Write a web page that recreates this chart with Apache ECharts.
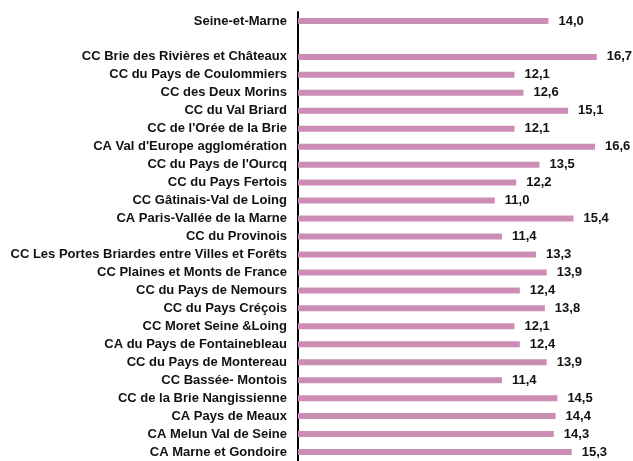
<!DOCTYPE html>
<html>
<head>
<meta charset="utf-8">
<script src="https://cdn.jsdelivr.net/npm/echarts@6/dist/echarts.min.js"></script>
<style>html,body{margin:0;padding:0;background:#fff}#chart{width:633px;height:461px}</style>
</head>
<body>
<div id="chart"></div>
<script>
const categories = [
  'Seine-et-Marne', '',
  'CC Brie des Rivières et Châteaux', 'CC du Pays de Coulommiers', 'CC des Deux Morins',
  'CC du Val Briard', "CC de l'Orée de la Brie", "CA Val d'Europe agglomération",
  "CC du Pays de l'Ourcq", 'CC du Pays Fertois', 'CC Gâtinais-Val de Loing',
  'CA Paris-Vallée de la Marne', 'CC du Provinois', 'CC Les Portes Briardes entre Villes et Forêts',
  'CC Plaines et Monts de France', 'CC du Pays de Nemours', 'CC du Pays Créçois',
  'CC Moret Seine &Loing', 'CA du Pays de Fontainebleau', 'CC du Pays de Montereau',
  'CC Bassée- Montois', 'CC de la Brie Nangissienne', 'CA Pays de Meaux',
  'CA Melun Val de Seine', 'CA Marne et Gondoire'
]
const values = [
  14.0, null,
  16.7, 12.1, 12.6, 15.1, 12.1, 16.6, 13.5, 12.2, 11.0, 15.4, 11.4, 13.3,
  13.9, 12.4, 13.8, 12.1, 12.4, 13.9, 11.4, 14.5, 14.4, 14.3, 15.3
]

const chart = echarts.init(document.getElementById('chart'), null, { renderer: 'canvas' })
chart.setOption({
  animation: false,
  grid: { top: 12, bottom: -2, left: 298, right: 13, containLabel: false },
  xAxis: {
    type: 'value', min: 0, max: 18, show: false
  },
  yAxis: {
    type: 'category', data: categories, inverse: true,
    axisLine: { show: true, lineStyle: { color: '#000', width: 2 } },
    axisTick: { show: false },
    axisLabel: {
      margin: 11, color: '#111', fontSize: 13, fontWeight: 'bold',
      fontFamily: 'Liberation Sans, Arial, sans-serif'
    }
  },
  series: [{
    type: 'bar', data: values, barWidth: 6,
    itemStyle: { color: '#CC8DB5' },
    label: {
      show: true, position: 'right', distance: 10, color: '#111',
      fontSize: 13, fontWeight: 'bold', fontFamily: 'Liberation Sans, Arial, sans-serif',
      formatter: p => p.value == null ? '' : p.value.toFixed(1).replace('.', ',')
    }
  }]
})
</script>
</body>
</html>
